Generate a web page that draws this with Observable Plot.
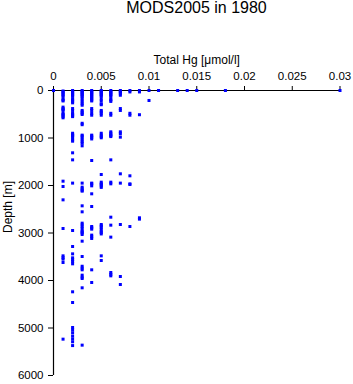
<!DOCTYPE html>
<html>
<head>
<meta charset="utf-8">
<script src="https://cdn.jsdelivr.net/npm/d3@7"></script>
<script src="https://cdn.jsdelivr.net/npm/@observablehq/plot@0.6"></script>
<style>
  html, body { margin: 0; padding: 0; background: #fff; }
  #title { width: 353px; height: 24px; position: relative; font-family: "Liberation Sans", Arial, sans-serif; }
  #title span { position: absolute; left: 53px; width: 287px; text-align: center; font-size: 16px; line-height: 16px; top: 0; color: #000; }
  #chart svg { display: block; }
</style>
</head>
<body>
<div id="title"><span>MODS2005 in 1980</span></div>
<div id="chart"></div>
<script>
const titleText = "MODS2005 in 1980";
const xLabel = "Total Hg [\u03bcmol/l]";
const yLabel = "Depth [m]";

const xTicks = [0, 0.005, 0.01, 0.015, 0.02, 0.025, 0.03];
const xTickLabels = ["0", "0.005", "0.01", "0.015", "0.02", "0.025", "0.03"];
const yTicks = [0, 1000, 2000, 3000, 4000, 5000, 6000];
const yTickLabels = ["0", "1000", "2000", "3000", "4000", "5000", "6000"];

// Total Hg levels (umol/l) and the depths (m) at which each was observed
const hgLevels = [0, 0.001, 0.002, 0.003, 0.004, 0.005, 0.006, 0.007, 0.008, 0.009, 0.010, 0.011, 0.013, 0.014, 0.015, 0.018, 0.030];

const depthsHg0000 = [0];
const depthsHg0001 = [10, 30, 50, 75, 100, 125, 180, 200, 220, 350, 380, 400, 420, 480, 500, 520, 550, 575, 1909, 2021, 2302, 2905, 3481, 3520, 3551, 3621, 5235];
const depthsHg0002 = [0, 20, 40, 60, 80, 100, 125, 180, 200, 230, 260, 380, 420, 480, 500, 530, 550, 900, 950, 930, 960, 1000, 1040, 1067, 1312, 1460, 1950, 2947, 3284, 3439, 3523, 3560, 3600, 3649, 4238, 4463, 4990, 5040, 5100, 5170, 5230, 5290, 5370];
const depthsHg0003 = [0, 20, 40, 60, 80, 100, 125, 160, 200, 240, 280, 310, 420, 450, 480, 505, 690, 720, 940, 960, 1000, 1040, 1080, 1110, 1165, 1950, 2035, 2070, 2100, 2119, 2428, 2554, 2793, 2830, 2870, 2910, 2961, 2975, 3000, 3031, 3172, 3495, 3700, 3740, 3775, 3888, 3930, 3958, 4154, 5361];
const depthsHg0004 = [0, 20, 40, 60, 80, 100, 125, 150, 175, 200, 220, 380, 420, 480, 520, 940, 960, 990, 1020, 1474, 1950, 1965, 2007, 2175, 2442, 2863, 2890, 2919, 3045, 3080, 3115, 3775, 4042];
const depthsHg0005 = [0, 20, 40, 60, 80, 100, 125, 180, 220, 280, 300, 420, 450, 480, 520, 900, 940, 970, 996, 1768, 1930, 1965, 1980, 2010, 2040, 2821, 2850, 2880, 2920, 2961, 2990, 3020, 3481, 3579];
const depthsHg0006 = [0, 20, 40, 60, 80, 100, 125, 180, 200, 230, 480, 520, 870, 900, 930, 950, 970, 1460, 1930, 1965, 2667, 2835, 3087, 3832, 3870, 3902];
const depthsHg0007 = [0, 20, 40, 70, 100, 380, 420, 870, 910, 982, 1754, 1950, 2821, 3916, 4084];
const depthsHg0008 = [0, 30, 480, 520, 1796, 1965, 1979, 2863];
const depthsHg0009 = [0, 30, 510, 2680, 2708];
const depthsHg0010 = [0, 210];
const depthsHg0011 = [0];
const depthsHg0013 = [0];
const depthsHg0014 = [0];
const depthsHg0015 = [0];
const depthsHg0018 = [0];
const depthsHg0030 = [0];

const depthLists = [depthsHg0000, depthsHg0001, depthsHg0002, depthsHg0003, depthsHg0004, depthsHg0005, depthsHg0006, depthsHg0007, depthsHg0008, depthsHg0009, depthsHg0010, depthsHg0011, depthsHg0013, depthsHg0014, depthsHg0015, depthsHg0018, depthsHg0030];

const data = [];
hgLevels.forEach((hg, i) => depthLists[i].forEach(depth => data.push({hg, depth})));

const font = "\"Liberation Sans\", Arial, sans-serif";

const chart = Plot.plot({
  width: 353,
  height: 360,
  marginTop: 66,
  marginLeft: 53,
  marginRight: 13.5,
  marginBottom: 9,
  style: {fontFamily: font, fontSize: "11.5px", color: "#000", background: "#fff"},
  x: {domain: [0, 0.03]},
  y: {domain: [0, 6000], reverse: true},
  marks: [
    Plot.axisX({anchor: "top", ticks: xTicks, tickFormat: (d, i) => xTickLabels[i], tickSize: 5, tickPadding: 6, label: null, fontSize: 11.5}),
    Plot.axisY({anchor: "left", ticks: yTicks, tickFormat: (d, i) => yTickLabels[i], tickSize: 5, tickPadding: 5, label: null, fontSize: 11.5}),
    Plot.ruleY([0], {stroke: "#000", strokeWidth: 1.2}),
    Plot.ruleX([0], {stroke: "#000", strokeWidth: 1.2}),
    Plot.text([xLabel], {frameAnchor: "top", lineAnchor: "middle", dy: -30, fontSize: 12, fill: "#000"}),
    Plot.text([yLabel], {frameAnchor: "left", lineAnchor: "middle", rotate: -90, dx: -45, fontSize: 12, fill: "#000"}),
    Plot.dot(data, {x: "hg", y: "depth", symbol: "square", r: 1.7, fill: "#0000ff", stroke: null})
  ]
});
document.getElementById("chart").appendChild(chart);
document.querySelector("#title span").textContent = titleText;
</script>
</body>
</html>
